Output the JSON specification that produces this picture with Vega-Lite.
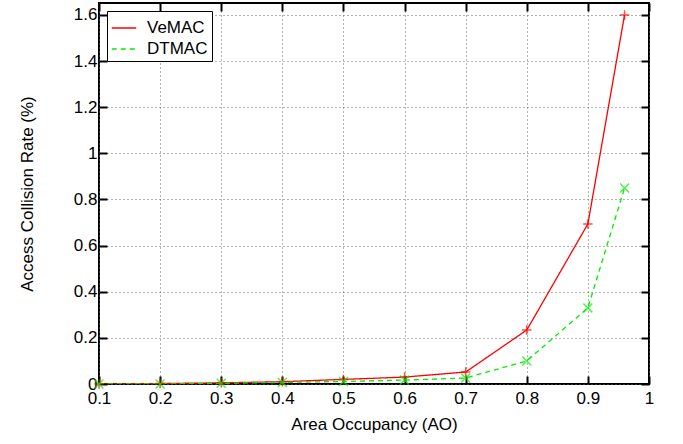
{
  "$schema": "https://vega.github.io/schema/vega-lite/v6.json",
  "width": 550,
  "height": 381,
  "autosize": {"type": "none"},
  "padding": {"left": 99, "top": 3, "right": 34, "bottom": 60},
  "background": "white",
  "config": {
    "font": "Liberation Sans",
    "view": {"stroke": "black", "strokeWidth": 2},
    "axis": {
      "labelFont": "Liberation Sans",
      "titleFont": "Liberation Sans",
      "labelFontSize": 17,
      "titleFontSize": 17,
      "titleFontWeight": "normal",
      "labelColor": "black",
      "titleColor": "black",
      "domain": false,
      "tickColor": "black",
      "tickWidth": 2,
      "tickSize": -8,
      "labelFlush": false,
      "gridColor": "#666666",
      "gridDash": [1, 3],
      "gridWidth": 1
    }
  },
  "data": {
    "values": [
      {"series": "VeMAC", "ao": 0.1, "rate": 0.0},
      {"series": "VeMAC", "ao": 0.2, "rate": 0.002},
      {"series": "VeMAC", "ao": 0.3, "rate": 0.005},
      {"series": "VeMAC", "ao": 0.4, "rate": 0.01},
      {"series": "VeMAC", "ao": 0.5, "rate": 0.02},
      {"series": "VeMAC", "ao": 0.6, "rate": 0.03},
      {"series": "VeMAC", "ao": 0.7, "rate": 0.052},
      {"series": "VeMAC", "ao": 0.8, "rate": 0.234},
      {"series": "VeMAC", "ao": 0.9, "rate": 0.694},
      {"series": "VeMAC", "ao": 0.96, "rate": 1.6},
      {"series": "DTMAC", "ao": 0.1, "rate": 0.0},
      {"series": "DTMAC", "ao": 0.2, "rate": 0.0},
      {"series": "DTMAC", "ao": 0.3, "rate": 0.003},
      {"series": "DTMAC", "ao": 0.4, "rate": 0.007},
      {"series": "DTMAC", "ao": 0.5, "rate": 0.011},
      {"series": "DTMAC", "ao": 0.6, "rate": 0.017},
      {"series": "DTMAC", "ao": 0.7, "rate": 0.026},
      {"series": "DTMAC", "ao": 0.8, "rate": 0.1},
      {"series": "DTMAC", "ao": 0.9, "rate": 0.33},
      {"series": "DTMAC", "ao": 0.96, "rate": 0.85}
    ]
  },
  "layer": [
    {
      "mark": {"type": "line", "interpolate": "linear", "strokeWidth": 1.3, "clip": true},
      "encoding": {
        "x": {"field": "ao", "type": "quantitative", "scale": {"domain": [0.1, 1], "nice": false, "zero": false},
              "axis": {"title": "Area Occupancy (AO)", "values": [0.1,0.2,0.3,0.4,0.5,0.6,0.7,0.8,0.9,1], "format": "~g", "labelPadding": 14, "titlePadding": 10, "orient": "bottom"}},
        "y": {"field": "rate", "type": "quantitative", "scale": {"domain": [0, 1.652], "nice": false},
              "axis": {"title": "Access Collision Rate (%)", "values": [0,0.2,0.4,0.6,0.8,1,1.2,1.4,1.6], "format": "~g", "labelPadding": 10, "titlePadding": 37, "orient": "left"}},
        "color": {"field": "series", "type": "nominal",
                  "scale": {"domain": ["VeMAC", "DTMAC"], "range": ["#ff0000", "#00ee00"]},
                  "legend": {"title": null, "orient": "top-left", "offset": 8,
                             "strokeColor": "black", "fillColor": "white", "padding": 4,
                             "labelFontSize": 17, "labelFont": "Liberation Sans", "labelColor": "black",
                             "symbolType": "stroke", "symbolSize": 600, "symbolStrokeWidth": 1.5,
                             "labelOffset": 10, "rowPadding": 0}},
        "strokeDash": {"field": "series", "type": "nominal",
                       "scale": {"domain": ["VeMAC", "DTMAC"], "range": [[1, 0], [5, 4]]}}
      }
    },
    {
      "transform": [{"filter": "datum.series === 'VeMAC'"}],
      "mark": {"type": "point", "filled": false, "strokeWidth": 1.5, "size": 90, "shape": "M-1,0L1,0M0,-1L0,1"},
      "encoding": {
        "x": {"field": "ao", "type": "quantitative", "axis": null},
        "y": {"field": "rate", "type": "quantitative", "axis": null},
        "color": {"field": "series", "type": "nominal", "legend": null}
      }
    },
    {
      "transform": [{"filter": "datum.series === 'DTMAC'"}],
      "mark": {"type": "point", "filled": false, "strokeWidth": 1.5, "size": 80, "shape": "M-1,-1L1,1M-1,1L1,-1"},
      "encoding": {
        "x": {"field": "ao", "type": "quantitative", "axis": null},
        "y": {"field": "rate", "type": "quantitative", "axis": null},
        "color": {"field": "series", "type": "nominal", "legend": null}
      }
    },
    {
      "mark": {"type": "point", "opacity": 0},
      "encoding": {
        "x": {"field": "ao", "type": "quantitative",
              "axis": {"orient": "top", "labels": false, "grid": false, "title": null, "values": [0.1,0.2,0.3,0.4,0.5,0.6,0.7,0.8,0.9,1]}},
        "y": {"field": "rate", "type": "quantitative",
              "axis": {"orient": "right", "labels": false, "grid": false, "title": null, "values": [0,0.2,0.4,0.6,0.8,1,1.2,1.4,1.6]}}
      }
    }
  ],
  "resolve": {"axis": {"x": "independent", "y": "independent"}}
}
